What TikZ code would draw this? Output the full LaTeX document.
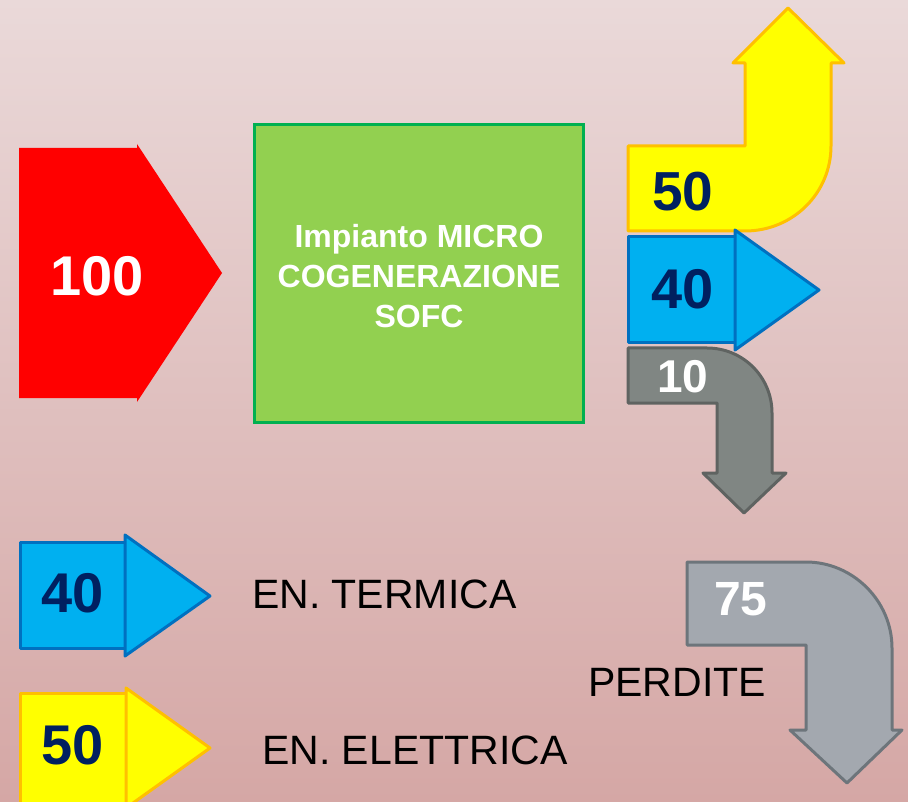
\documentclass[tikz,border=0pt]{standalone}
\usepackage{fontspec}
\setmainfont{Liberation Sans}
\usetikzlibrary{positioning}

\definecolor{bgtop}{HTML}{EAD9D9}
\definecolor{bgbot}{HTML}{D5A7A5}
\definecolor{navy}{HTML}{002060}
\definecolor{elyel}{HTML}{FFFF00}
\definecolor{elgold}{HTML}{FFC000}
\definecolor{thblue}{HTML}{00B0F0}
\definecolor{thline}{HTML}{0070C0}
\definecolor{plfill}{HTML}{92D050}
\definecolor{plline}{HTML}{00B050}
\definecolor{lsfill}{HTML}{808683}
\definecolor{lsline}{HTML}{5F6361}
\definecolor{totfill}{HTML}{A3A8AF}
\definecolor{totline}{HTML}{6D757B}

\begin{document}
\begin{tikzpicture}[
  x=1pt, y=-1pt,
  yelarr/.style={fill=elyel, draw=elgold, line width=3pt, line join=round},
  bluarr/.style={fill=thblue, draw=thline, line width=3pt, line join=round},
  lossarr/.style={fill=lsfill, draw=lsline, line width=3pt, line join=round},
  totarr/.style={fill=totfill, draw=totline, line width=3pt, line join=round},
  num/.style={font=\fontsize{56}{60}\selectfont\bfseries, text=navy, inner sep=0pt},
  wnum/.style={num, text=white},
  lgd/.style={font=\fontsize{41}{46}\selectfont, text=black, inner sep=0pt, anchor=west},
]

% Background
\shade[top color=bgtop, bottom color=bgbot] (0,0) rectangle (908,802);
\useasboundingbox (0,0) rectangle (908,802);
\clip (0,0) rectangle (908,802);

% Input
\fill[red] (19,148) -- (137,148) -- (137,144) -- (222,273) -- (137,402)
  -- (137,398) -- (19,398) -- cycle;
\node[wnum] (in100) at (97,276) {100};

% Plant
\draw[fill=plfill, draw=plline, line width=3pt] (254,125) rectangle (583,422);
\node[font=\fontsize{32}{40}\selectfont\bfseries, text=white, align=center]
  (sofc) at (419,276) {Impianto MICRO\\COGENERAZIONE\\SOFC};

% Outputs
\draw[yelarr] (628,146) -- (745,146) -- (745,63) -- (733,63) -- (788,8)
  -- (844,63) -- (831,63) -- (831,146)
  .. controls (831,193) and (793,231) .. (745,231) -- (628,231) -- cycle;
\node[num, font=\fontsize{55}{60}\selectfont\bfseries] (out50) at (683,192) {50};

\draw[bluarr] (628,237) rectangle (735,343);
\draw[bluarr] (735,230) -- (819,290) -- (735,350) -- cycle;
\node[num] (out40) at (683,289) {40};

\draw[lossarr] (628,348) -- (707,348) .. controls (743,348) and (772,377) .. (772,413)
  -- (772,473) -- (786,473) -- (744,513) -- (703,473) -- (717,473)
  -- (717,403) -- (628,403) -- cycle;
\node[wnum, font=\fontsize{46}{50}\selectfont\bfseries] (out10) at (683,377) {10};

% Total losses
\draw[totarr] (687,562) -- (806,562) .. controls (853,562) and (892,601) .. (892,648)
  -- (892,730) -- (902,730) -- (847,783) -- (790,730) -- (806,730)
  -- (806,645) -- (687,645) -- cycle;
\node[wnum, font=\fontsize{48}{52}\selectfont\bfseries] (tot75) at (741,599) {75};
\node[lgd] (perd) at (588,682) {PERDITE};

% Legend
\draw[bluarr] (20,542) rectangle (125,648);
\draw[bluarr] (125,535) -- (210,596) -- (125,656) -- cycle;
\node[num] (lg40) at (73,593) {40};
\node[lgd] (term) at (252,594) {EN. TERMICA};

\draw[yelarr] (20,693) rectangle (126,803);
\draw[yelarr] (126,688) -- (210,748) -- (126,808) -- cycle;
\node[num] (lg50) at (73,745) {50};
\node[lgd] (elet) at (262,750) {EN. ELETTRICA};

\end{tikzpicture}
\end{document}
